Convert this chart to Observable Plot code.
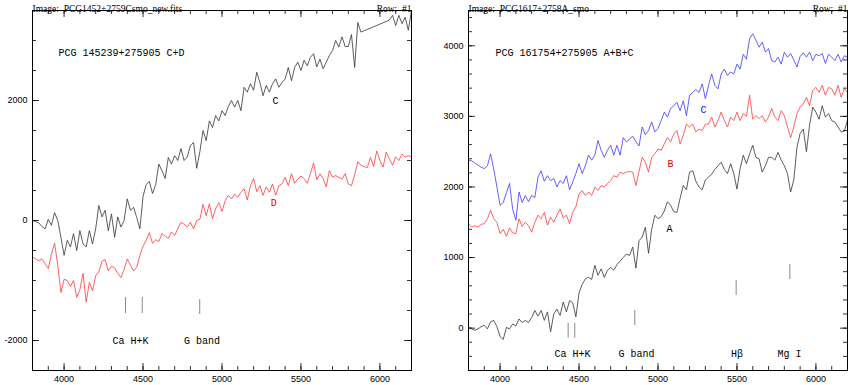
<!DOCTYPE html>
<html><head><meta charset="utf-8">
<script src="https://cdn.jsdelivr.net/npm/d3@7"></script>
<script src="https://cdn.jsdelivr.net/npm/@observablehq/plot@0.6"></script>
<style>
body{margin:0;background:#fff}
#wrap{display:flex;width:850px;height:385px;overflow:hidden}
</style>
</head><body><div id="wrap"></div>
<script>
// ---------- wavelength grids (Å) ----------
const waveGrid = d3.range(3800, 6201, 20);
const waveLeftC = d3.range(3800, 5881, 20).concat(d3.range(6060, 6201, 20));

// ---------- left panel: PCG 145239+275905 ----------
const fluxLeftC = [
  0, -20, -40, -100, -140, 20, -80, 130, 0, -280,
  -580, -330, -440, -220, -500, -170, -390, -440, -170, -390,
  -140, 250, 60, 170, -170, 110, -280, 60, -110, 0,
  360, 170, 220, 50, -140, 400, 600, 650, 450, 600,
  940, 830, 700, 1050, 940, 1080, 1000, 1200, 1000, 1060,
  1250, 1300, 870, 1150, 1500, 1330, 1660, 1550, 1750, 1660,
  1830, 1750, 1900, 2000, 1890, 2000, 1830, 2220, 2140, 2280,
  2170, 2470, 2300, 2080, 2250, 2140, 2280, 2360, 2220, 2300,
  2360, 2550, 2330, 2550, 2640, 2500, 2670, 2580, 2720, 2780,
  2560, 2690, 2530, 2640, 2750, 2830, 3000, 2890, 3060, 2900,
  2900, 3100, 2550, 3300, 3140,
  3340, 3420, 3250, 3420, 3280, 3390, 3170, 3500
];
const fluxLeftD = [
  -610, -640, -670, -640, -720, -800, -560, -380, -750, -1200,
  -980, -1000, -1100, -1000, -1280, -1150, -880, -1360, -1030, -1170,
  -920, -860, -680, -650, -840, -760, -790, -880, -950, -820,
  -640, -740, -840, -780, -580, -430, -330, -200, -380, -320,
  -350, -220, -260, -300, -190, -250, -140, -30, -60, -110,
  -30, -140, 0, 20, 270, 80, 280, 30, 200, 300,
  150, 330, 420, 360, 440, 390, 470, 530, 340, 580,
  700, 480, 580, 420, 560, 470, 610, 420, 580, 610,
  720, 580, 780, 620, 690, 740, 700, 620, 780, 960,
  680, 780, 700, 560, 830, 720, 750, 720, 690, 780,
  610, 580, 760, 980, 920, 900, 880, 1050, 900, 1160,
  1000, 890, 1140, 1030, 920, 1060, 1000, 1110, 1060, 1080,
  1060
];

// ---------- right panel: PCG 161754+275905 ----------
const fluxRightC = [
  2380, 2370, 2340, 2310, 2280, 2260, 2300, 2470, 2250, 2000,
  1740, 1780, 1920, 2050, 1680, 1530, 1930, 1780, 1880, 1790,
  1880, 1850, 2140, 2230, 2080, 2160, 2090, 2120, 2000, 2090,
  2050, 2160, 1960, 2070, 2190, 2330, 2190, 2300, 2450, 2380,
  2450, 2660, 2520, 2420, 2520, 2590, 2450, 2590, 2450, 2700,
  2640, 2680, 2720, 2640, 2580, 2850, 2740, 2800, 2920, 2780,
  2830, 2940, 3060, 2990, 3110, 3150, 3200, 3080, 3220, 3010,
  3300, 3340, 3380, 3340, 3460, 3250, 3440, 3600, 3440, 3390,
  3600, 3670, 3580, 3630, 3600, 3740, 3670, 3880, 3810, 4100,
  4170, 4080, 3980, 4050, 3910, 3960, 3790, 3770, 3840, 3740,
  3910, 3840, 3890, 3800, 3700, 3850, 3900, 3840, 3910, 3790,
  3880, 3860, 3890, 3750, 3880, 3840, 3790, 3880, 3770, 3860,
  3840
];
const fluxRightB = [
  1480, 1430, 1450, 1430, 1470, 1480, 1550, 1670, 1550, 1500,
  1340, 1400, 1300, 1420, 1350, 1340, 1550, 1440, 1500, 1450,
  1360, 1500, 1600, 1550, 1640, 1460, 1570, 1500, 1600, 1690,
  1560, 1600, 1480, 1640, 1720, 1900, 1950, 1880, 1930, 1880,
  2000, 1950, 2020, 2000, 2050, 2090, 2160, 2140, 2210, 2190,
  2210, 2220, 2210, 2020, 2220, 2420, 2350, 2210, 2420, 2470,
  2540, 2520, 2610, 2700, 2640, 2750, 2800, 2610, 2730, 2890,
  2850, 2890, 2780, 2820, 2800, 2890, 2890, 2990, 2850, 2940,
  3060, 2940, 2850, 2990, 2940, 3060, 2940, 3040, 3000, 3300,
  2960, 3010, 2970, 3010, 2920, 2990, 3110, 2990, 2940, 3080,
  3010, 2850, 2700, 2850, 3040, 3130, 3180, 3270, 3150, 3370,
  3410, 3340, 3440, 3300, 3410, 3390, 3300, 3440, 3270, 3390,
  3340
];
const fluxRightA = [
  20, -10, -30, -10, 20, 40, -10, 90, 110, 20,
  -120, -160, 10, -10, 60, 30, 130, 80, 110, 80,
  150, 250, 170, 250, 110, 230, -50, 200, 270, 180,
  370, 230, 390, 360, 160, 500, 620, 700, 720, 690,
  890, 750, 840, 720, 820, 860, 820, 900, 950, 1000,
  1050, 1030, 1150, 850, 1240, 1290, 1430, 1060, 1400, 1600,
  1550, 1580, 1660, 1790, 1740, 1650, 1640, 1840, 2020, 1960,
  2210, 2230, 2080, 2000, 1960, 2100, 2140, 2180, 2250, 2300,
  2350, 2250, 2190, 2330, 2190, 1970, 2260, 2450, 2330, 2470,
  2590, 2420, 2400, 2210, 2300, 2420, 2420, 2380, 2490, 2380,
  2300, 2190, 1930, 2100, 2560, 2760, 2820, 2500, 2880, 3130,
  3060, 2960, 3150, 2990, 3040, 2940, 2920, 2850, 2780, 2790,
  2950
];

// ---------- axes ----------
const xMajor = [4000, 4500, 5000, 5500, 6000];
const xMinor = d3.range(3800, 6201, 100);
const yLeftLabels = [-2000, 0, 2000];
const yLeftMinor = d3.range(-2500, 3501, 500);
const yRightLabels = [0, 1000, 2000, 3000, 4000];
const yRightMinor = d3.range(-600, 4501, 200);

// ---------- spectral feature markers ----------
const leftMarkWave = [4389, 4495, 4859];
const leftMarkTop = [-1283, -1283, -1317];
const leftMarkBottom = [-1550, -1550, -1567];
const rightMarkWave = [4431, 4473, 4853, 5495, 5835];
const rightMarkTop = [70, 70, 250, 675, 902];
const rightMarkBottom = [-143, -143, 37, 462, 689];

// ---------- annotation texts ----------
const leftTitle = [{w: 3965, f: 2795, t: "PCG 145239+275905 C+D"}];
const leftNotes = [
  {w: 5339, f: 2000, t: "C", c: "#000"},
  {w: 5328, f: 288, t: "D", c: "#e00000"},
  {w: 4420, f: -2000, t: "Ca H+K", c: "#000"},
  {w: 4873, f: -2000, t: "G band", c: "#000"}
];
const rightTitle = [{w: 3971, f: 3901, t: "PCG 161754+275905 A+B+C"}];
const rightNotes = [
  {w: 5288, f: 3097, t: "C", c: "#1010ff"},
  {w: 5079, f: 2332, t: "B", c: "#e00000"},
  {w: 5073, f: 1412, t: "A", c: "#000"},
  {w: 4459, f: -359, t: "Ca H+K", c: "#000"},
  {w: 4864, f: -359, t: "G band", c: "#000"},
  {w: 5500, f: -359, t: "Hβ", c: "#000"},
  {w: 5833, f: -359, t: "Mg I", c: "#000"}
];

const headers = {
  left: ["Image:  PCG1452+2759Csmo_new.fits", "Row:  #1"],
  right: ["Image:  PCG1617+2758A_smo", "Row:  #1"]
};

function series(w, f) { return w.map((x, i) => ({w: x, f: f[i]})); }
function marks3(w, a, b) { return w.map((x, i) => ({w: x, y1: a[i], y2: b[i]})); }

function panel({yDomain, yLabels, yMinor, yMajorTicks, lines, marks, title, notes, head, ml, mr}) {
  const W = 425, H = 385, mt = 10, mb = 15;
  const fw = W - ml - mr, fh = H - mt - mb;
  const monoFont = "Liberation Mono";
  return Plot.plot({
    width: W, height: H,
    marginLeft: ml, marginRight: mr, marginTop: mt, marginBottom: mb,
    style: {fontFamily: "Liberation Sans", fontSize: "9px", background: "#fff", overflow: "visible"},
    x: {domain: [3800, 6200], label: null},
    y: {domain: yDomain, label: null},
    marks: [
      // ticks: bottom / top
      Plot.tickX(xMinor, {x: d => d, insetTop: fh - 4, stroke: "#000", strokeWidth: 0.8}),
      Plot.tickX(xMinor, {x: d => d, insetBottom: fh - 4, stroke: "#000", strokeWidth: 0.8}),
      Plot.tickX(xMajor, {x: d => d, insetTop: fh - 7, stroke: "#000", strokeWidth: 0.8}),
      Plot.tickX(xMajor, {x: d => d, insetBottom: fh - 7, stroke: "#000", strokeWidth: 0.8}),
      // ticks: left / right
      Plot.tickY(yMinor, {y: d => d, insetRight: fw - 4, stroke: "#000", strokeWidth: 0.8}),
      Plot.tickY(yMinor, {y: d => d, insetLeft: fw - 4, stroke: "#000", strokeWidth: 0.8}),
      Plot.tickY(yMajorTicks, {y: d => d, insetRight: fw - 7, stroke: "#000", strokeWidth: 0.8}),
      Plot.tickY(yMajorTicks, {y: d => d, insetLeft: fw - 7, stroke: "#000", strokeWidth: 0.8}),
      Plot.axisX({ticks: xMajor, tickSize: 0, tickPadding: 5, tickFormat: d => String(d), fontSize: 9, label: null}),
      Plot.axisY({ticks: yLabels, tickSize: 0, tickPadding: 5, tickFormat: d => String(d), fontSize: 9, label: null}),
      // spectra
      ...lines.map(([data, color]) => Plot.line(data, {x: "w", y: "f", stroke: color, strokeWidth: 0.8})),
      // feature markers
      Plot.ruleX(marks, {x: "w", y1: "y1", y2: "y2", stroke: "#8a8a8a", strokeWidth: 1}),
      // annotations
      Plot.text(title, {x: "w", y: "f", text: "t", fill: "#000", textAnchor: "start", fontFamily: monoFont, fontSize: 10}),
      Plot.text(notes, {x: "w", y: "f", text: "t", fill: "c", textAnchor: "middle", fontFamily: monoFont, fontSize: 10}),
      // header
      Plot.text([head[0]], {frameAnchor: "top-left", dy: -5, textAnchor: "start", fontFamily: "Liberation Serif", fontSize: 9.5, fill: "#000"}),
      Plot.text([head[1]], {frameAnchor: "top-right", dy: -5, textAnchor: "end", fontFamily: "Liberation Serif", fontSize: 9.5, fill: "#000"}),
      Plot.frame({stroke: "#000", strokeWidth: 1})
    ]
  });
}

const left = panel({
  yDomain: [-2500, 3500], yLabels: yLeftLabels, yMinor: yLeftMinor, yMajorTicks: yLeftLabels,
  lines: [[series(waveLeftC, fluxLeftC), "#333"], [series(waveGrid, fluxLeftD), "#ff3a3a"]],
  marks: marks3(leftMarkWave, leftMarkTop, leftMarkBottom),
  title: leftTitle, notes: leftNotes, head: headers.left, ml: 32, mr: 14
});
const right = panel({
  yDomain: [-600, 4500], yLabels: yRightLabels, yMinor: yRightMinor, yMajorTicks: yRightLabels,
  lines: [[series(waveGrid, fluxRightA), "#333"], [series(waveGrid, fluxRightB), "#ff3a3a"], [series(waveGrid, fluxRightC), "#3a3aff"]],
  marks: marks3(rightMarkWave, rightMarkTop, rightMarkBottom),
  title: rightTitle, notes: rightNotes, head: headers.right, ml: 43, mr: 3
});
document.getElementById("wrap").append(left, right);
</script>
</body></html>
